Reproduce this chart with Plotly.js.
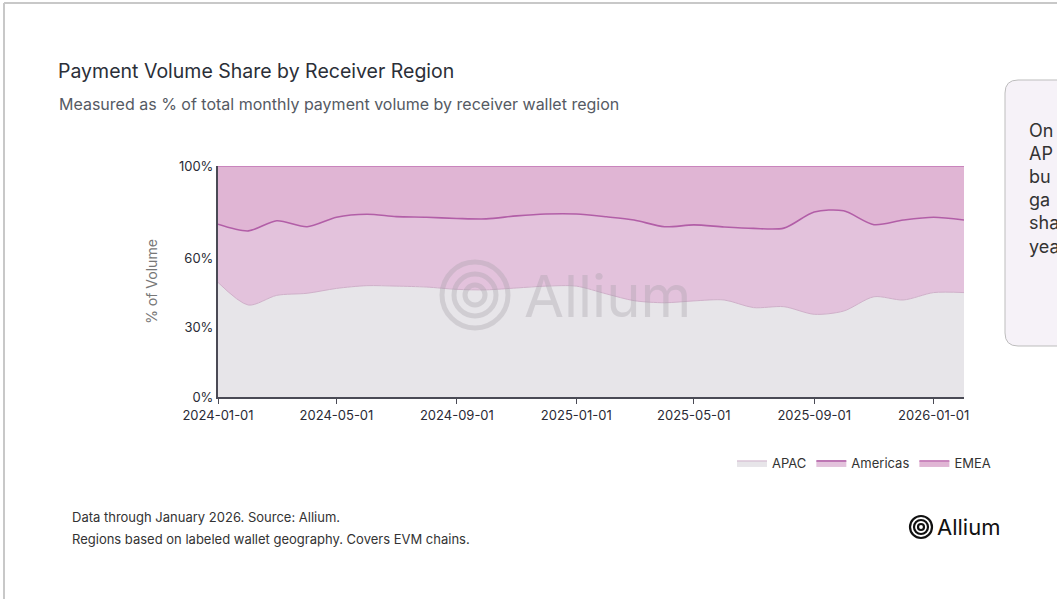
<!DOCTYPE html>
<html><head><meta charset="utf-8">
<script src="https://cdn.plot.ly/plotly-3.0.1.min.js"></script>
<style>html,body{margin:0;padding:0;background:#fff;overflow:hidden}#chart{width:1057px;height:599px}</style>
</head><body><div id="chart"></div>
<script>
const months = ["2024-01-01","2024-02-01","2024-03-01","2024-04-01","2024-05-01","2024-06-01","2024-07-01","2024-08-01","2024-09-01","2024-10-01","2024-11-01","2024-12-01",
"2025-01-01","2025-02-01","2025-03-01","2025-04-01","2025-05-01","2025-06-01","2025-07-01","2025-08-01","2025-09-01","2025-10-01","2025-11-01","2025-12-01","2026-01-01","2026-02-01"];
const apac = [49.6,39.8,44.0,44.9,47.0,48.2,48.0,47.6,46.6,46.4,47.2,48.0,48.0,44.6,41.7,40.8,41.6,42.0,38.7,39.1,35.8,37.2,43.4,42.0,45.2,45.2];
const americas = [25.2,32.1,32.3,28.8,30.8,30.9,30.1,30.2,30.7,30.7,31.2,31.2,31.2,33.4,34.9,32.9,32.9,31.6,34.3,34.0,44.3,43.4,31.2,34.6,32.6,31.4];
const emea = [25.2,28.1,23.7,26.3,22.2,20.9,21.9,22.2,22.7,22.9,21.6,20.8,20.8,22.0,23.4,26.3,25.5,26.4,27.0,26.9,19.9,19.4,25.4,23.4,22.2,23.4];
const seriesNames = ["APAC","Americas","EMEA"];
const yTickVals = [0,30,60,100];
const yTickText = ["0%","30%","60%","100%"];

// pixel -> paper helpers (plot area 218..964 x, 166..397 y)
const L=218, R=964, T=166, B=397;
const px = x => (x-L)/(R-L);
const py = y => (B-y)/(B-T);

const fills = ["#e7e5e9","#e3c2dc","#e0b5d4"];
const lines = ["#cfb0c9","#b25ea7","#c274b4"];
const data = [apac, americas, emea].map((v,i)=>({
  x: months, y: v, name: seriesNames[i], type:'scatter', mode:'lines',
  stackgroup:'one', fillcolor: fills[i],
  line:{color: lines[i], width: i===0?1:1.6, shape:'spline', smoothing:0.8},
  hoverinfo:'skip'
}));

function circle(cx, cy, r, color, w){
  return {type:'circle', xref:'paper', yref:'paper', x0:px(cx-r), x1:px(cx+r), y0:py(cy+r), y1:py(cy-r),
    line:{color:color, width:w}, fillcolor:'rgba(0,0,0,0)', layer:'above'};
}
function roundRect(x0,y0,x1,y1,r){
  const X=v=>px(v), Y=v=>py(v);
  return `M ${X(x0+r)},${Y(y0)} L ${X(x1-r)},${Y(y0)} Q ${X(x1)},${Y(y0)} ${X(x1)},${Y(y0+r)} L ${X(x1)},${Y(y1-r)} Q ${X(x1)},${Y(y1)} ${X(x1-r)},${Y(y1)} L ${X(x0+r)},${Y(y1)} Q ${X(x0)},${Y(y1)} ${X(x0)},${Y(y1-r)} L ${X(x0)},${Y(y0+r)} Q ${X(x0)},${Y(y0)} ${X(x0+r)},${Y(y0)} Z`;
}
const wm = 'rgba(165,160,168,0.35)';
const shapes = [
  {type:'line', xref:'paper', yref:'paper', x0:px(4), x1:px(4), y0:py(3), y1:py(610), line:{color:'#c8c8c8', width:2}},
  {type:'line', xref:'paper', yref:'paper', x0:px(4), x1:px(1070), y0:py(3), y1:py(3), line:{color:'#c8c8c8', width:2}},
  {type:'path', xref:'paper', yref:'paper', path: roundRect(1005,80,1090,346,13), fillcolor:'#f6f2f8', line:{color:'#bdbdbd', width:1}, layer:'below'},
  circle(475,295,33,wm,5), circle(475,295,21,wm,5), circle(475,295,10,wm,5),
  circle(921,527,11,'#111',2.2), circle(921,527,7,'#111',2.2), circle(921,527,3,'#111',2.2)
];

const calloutLines = ["On","AP","bu","ga","sha","yea"];
const annotations = [
  {xref:'paper', yref:'paper', x:px(57), y:py(104), xanchor:'left', yanchor:'middle', showarrow:false,
   text:'Measured as % of total monthly payment volume by receiver wallet region', font:{family:'Inter', size:16, color:'#555a63'}},
  {xref:'paper', yref:'paper', x:px(522), y:py(296), xanchor:'left', yanchor:'middle', showarrow:false,
   text:'Allium', font:{family:'Inter', size:58, color:wm}},
  {xref:'paper', yref:'paper', x:px(70), y:py(517), xanchor:'left', yanchor:'middle', showarrow:false,
   text:'Data through January 2026. Source: Allium.', font:{family:'Inter', size:13, color:'#333'}},
  {xref:'paper', yref:'paper', x:px(70), y:py(539), xanchor:'left', yanchor:'middle', showarrow:false,
   text:'Regions based on labeled wallet geography. Covers EVM chains.', font:{family:'Inter', size:13, color:'#333'}},
  {xref:'paper', yref:'paper', x:px(935), y:py(527), xanchor:'left', yanchor:'middle', showarrow:false,
   text:'Allium', font:{family:'Inter', size:22, color:'#111'}},
  ...calloutLines.map((t,i)=>({xref:'paper', yref:'paper', x:px(1027), y:py(130+i*23.2), xanchor:'left', yanchor:'middle', showarrow:false,
   text:t, font:{family:'Inter', size:18, color:'#333'}}))
];

const layout = {
  width:1057, height:599,
  margin:{l:L, r:1057-R, t:T, b:599-B, pad:0},
  paper_bgcolor:'#fff', plot_bgcolor:'#fff',
  font:{family:'Inter', color:'#333'},
  title:{text:'Payment Volume Share by Receiver Region', xref:'container', yref:'container',
    x:58/1057, xanchor:'left', y:1-71/599, yanchor:'middle', font:{family:'Inter', size:19.5, color:'#2b2f38'}},
  xaxis:{type:'date', range:['2024-01-01','2026-02-01'], tick0:'2024-01-01', dtick:'M4', tickformat:'%Y-%m-%d',
    showgrid:false, showline:true, linecolor:'#4a4a55', linewidth:2, ticks:'outside', ticklen:5, tickcolor:'#4a4a55',
    tickfont:{family:'Inter', size:13, color:'#2a2a35'}, zeroline:false, fixedrange:true},
  yaxis:{range:[0,100], tickvals:yTickVals, ticktext:yTickText, showgrid:true, gridcolor:'rgba(205,195,205,0.45)', gridwidth:1,
    showline:true, linecolor:'#4a4a55', linewidth:2, ticks:'', zeroline:false,
    tickfont:{family:'Inter', size:13, color:'#2a2a35'},
    title:{text:'% of Volume', standoff:18, font:{family:'Inter', size:14, color:'#777'}}, fixedrange:true},
  showlegend:true,
  legend:{orientation:'h', x:px(732), y:py(448), xanchor:'left', yanchor:'top', traceorder:'normal',
    font:{family:'Inter', size:13, color:'#333'}, bgcolor:'rgba(0,0,0,0)', itemwidth:30},
  shapes: shapes, annotations: annotations, hovermode:false
};
Plotly.newPlot('chart', data, layout, {displayModeBar:false, staticPlot:true});
</script></body></html>
